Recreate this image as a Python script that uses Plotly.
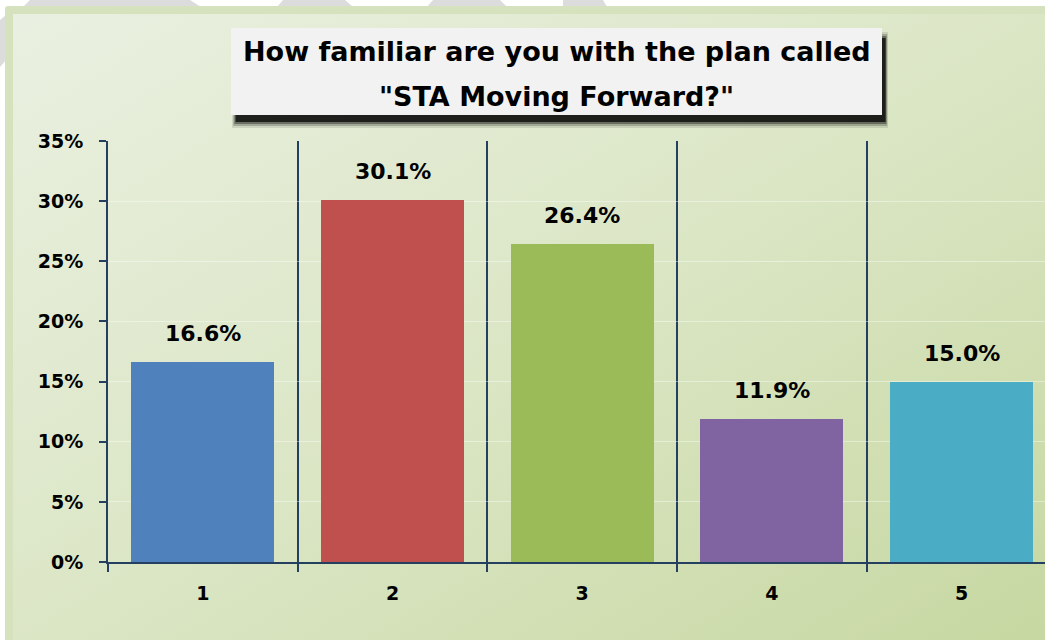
import base64
import plotly.graph_objects as go

# ---- data ----
categories = ["1", "2", "3", "4", "5"]
values = [0.166, 0.301, 0.264, 0.119, 0.150]
bar_colors = ["#4f81bd", "#c0504d", "#9bbb59", "#8064a2", "#4bacc6"]
title_lines = ["How familiar are you with the plan called", "\"STA Moving Forward?\""]
y_tickvals = [0, 0.05, 0.10, 0.15, 0.20, 0.25, 0.30, 0.35]

# ---- geometry of page ----
W, H = 1045, 640
L, R, T, B = 108, 0, 141, 78
PW, PH = W - L - R, H - T - B


def px(xp):
    return (xp - L) / PW


def py(yp):
    return (H - B - yp) / PH


NAVY = "#243f60"
FONT = "'DejaVu Sans', sans-serif"

# background svg (slide frame with gradient)
svg = f"""<svg xmlns='http://www.w3.org/2000/svg' width='{W}' height='{H}' viewBox='0 0 {W} {H}'>
<defs><linearGradient id='g' x1='0' y1='0' x2='1' y2='1'>
<stop offset='0' stop-color='#eaf0e1'/><stop offset='0.5' stop-color='#dbe6c5'/><stop offset='1' stop-color='#c6d7a0'/>
</linearGradient></defs>
<rect x='0' y='0' width='{W}' height='{H}' fill='#ffffff'/>
<polygon points='23,7 30,0 190,0 201,7' fill='#dcdcdc'/>
<polygon points='277,7 283,0 345,0 353,7' fill='#dcdcdc'/>
<polygon points='427,7 433,0 500,0 507,7' fill='#dcdcdc'/>
<polygon points='563,7 563,0 603,0 607,7' fill='#dcdcdc'/>
<polygon points='0,20 6,15 6,60 0,67' fill='#dcdcdc'/>
<rect x='5' y='6' width='{W}' height='{H}' rx='3' fill='#d6e2bd'/>
<rect x='13' y='14' width='{W}' height='{H}' fill='url(#g)'/>
</svg>"""
src = "data:image/svg+xml;base64," + base64.b64encode(svg.encode()).decode()

fig = go.Figure()
fig.add_trace(go.Bar(
    x=categories, y=values, marker=dict(color=bar_colors, line=dict(width=0)),
    width=0.755, hoverinfo="skip",
))

annotations = []
for i, (c, v) in enumerate(zip(categories, values)):
    annotations.append(dict(
        x=i, y=v, xref="x", yref="y", text=f"{v*100:.1f}%", showarrow=False,
        yanchor="bottom", yshift=14,
        font=dict(family=FONT, size=22, color="#000000", weight=700),
    ))

# title box with soft shadow
shapes = []
bx0, by0, bx1, by1 = 231, 28, 882, 115
for off, op in [(0, 0.10), (2, 0.20), (4, 0.35), (6, 0.70)]:
    shapes.append(dict(type="rect", xref="paper", yref="paper",
                       x0=px(bx0 + 1 + off * 0.6), x1=px(bx1 + 6 - off * 0.4),
                       y0=py(by0 + 4 + off), y1=py(by1 + 13 - off),
                       fillcolor=f"rgba(0,0,0,{op})", line=dict(width=0), layer="above"))
shapes.append(dict(type="rect", xref="paper", yref="paper",
                   x0=px(bx0), x1=px(bx1), y0=py(by0), y1=py(by1),
                   fillcolor="#f2f2f2", line=dict(width=0), layer="above"))

for i, line in enumerate(title_lines):
    annotations.append(dict(
        x=px((bx0 + bx1) / 2), y=py(52 + i * 44), xref="paper", yref="paper",
        text=line, showarrow=False, xanchor="center", yanchor="middle",
        font=dict(family=FONT, size=27, color="#000000", weight=700),
    ))

fig.update_layout(
    width=W, height=H,
    margin=dict(l=L, r=R, t=T, b=B, pad=0),
    paper_bgcolor="#ffffff", plot_bgcolor="rgba(0,0,0,0)",
    showlegend=False,
    images=[dict(source=src, xref="paper", yref="paper",
                 x=px(0), y=py(0), sizex=W / PW, sizey=H / PH,
                 xanchor="left", yanchor="top", sizing="stretch", layer="below")],
    shapes=shapes,
    annotations=annotations,
    bargap=0,
)
fig.update_xaxes(
    type="category", categoryorder="array", categoryarray=categories,
    range=[-0.5, 4.44], tickson="boundaries",
    showgrid=True, gridcolor=NAVY, gridwidth=2,
    showline=True, linecolor=NAVY, linewidth=2,
    ticks="outside", ticklen=8, tickwidth=2, tickcolor=NAVY,
    ticklabelstandoff=13,
    tickfont=dict(family=FONT, size=19, color="#000000", weight=700),
    fixedrange=True,
)
fig.update_yaxes(
    range=[0, 0.35], tickvals=y_tickvals, tickformat=".0%",
    showgrid=True, gridcolor="rgba(255,255,255,0.4)", gridwidth=1,
    zeroline=False,
    showline=True, linecolor=NAVY, linewidth=2,
    ticks="outside", ticklen=7, tickwidth=2, tickcolor=NAVY,
    ticklabelstandoff=12,
    tickfont=dict(family=FONT, size=19, color="#000000", weight=700),
    fixedrange=True,
)

fig.write_html("out.html", config={"displayModeBar": False, "staticPlot": True},
               post_script="document.body.style.margin='0';document.body.style.overflow='hidden';")
